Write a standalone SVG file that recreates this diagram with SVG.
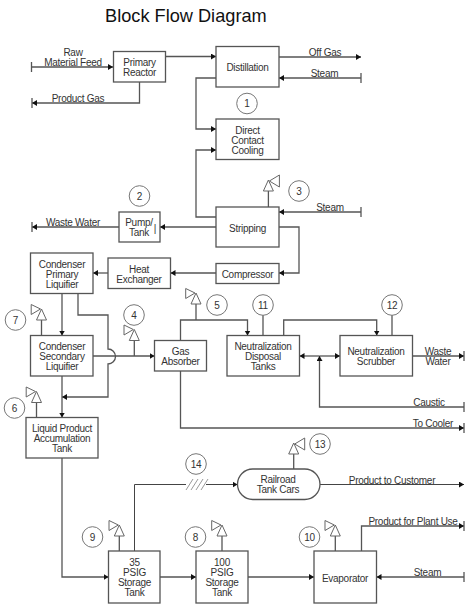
<svg xmlns="http://www.w3.org/2000/svg" width="474" height="608" viewBox="0 0 474 608">
<style>
text{font-family:"Liberation Sans",Arial,sans-serif;font-size:10px;letter-spacing:-.28px;fill:#333;text-anchor:middle}
.title{font-size:18.2px;letter-spacing:0;fill:#111;text-anchor:start}
.box{fill:#fff;stroke:#555;stroke-width:1.3}
.bub{fill:#fff;stroke:#777;stroke-width:1}
.c{fill:none;stroke:#555;stroke-width:1.3}
.a{marker-end:url(#arrow)}
.thin{stroke:#444;stroke-width:1}
.g{fill:#fff;stroke:#666;stroke-width:1}
</style>
<defs>
<marker id="arrow" markerUnits="userSpaceOnUse" markerWidth="6" markerHeight="7" refX="5" refY="3" orient="auto-start-reverse"><path d="M0 0L5 3L0 6Z" fill="#111"/></marker>
<g id="sensorL"><path class="g" d="M0-11L-5 0H5Z"/><path class="g" d="M-10.3-15.5V-5.5L-1-11Z"/></g>
<g id="sensorR"><path class="g" d="M0-11L-5 0H5Z"/><path class="g" d="M11-16V-4L1-10Z"/></g>
</defs>
<text class="title" x="105" y="22">Block Flow Diagram</text>
<g id="connectors">
<path class="c a" d="M31.5 67H113"/><path class="c" d="M31.5 62V72"/>
<path class="c a" d="M139.5 82V103H32"/><path class="c" d="M32 98V108"/>
<path class="c a" d="M165.5 56.5H216"/>
<path class="c a" d="M279 57H361"/>
<path class="c a" d="M361 78H279"/><path class="c" d="M361 73V83"/>
<path class="c a" d="M216 78H196V129H216"/>
<path class="c a" d="M216 217H196V150H216"/>
<path class="c a" d="M216 227H160"/>
<path class="c a" d="M119 227H32"/><path class="c" d="M32 222V232"/>
<path class="c a" d="M361 212H279"/><path class="c" d="M361 207V217"/>
<path class="c a" d="M279 227H299V273H279"/>
<path class="c a" d="M216 273H170.5"/>
<path class="c a" d="M108 273H93"/>
<path class="c a" d="M62 293.5V335.5"/>
<path class="c a" d="M78 293.5V315H108V349A7.5 7.5 0 0 1 108 364V397H62"/>
<path class="c a" d="M93 356H154.5"/>
<path class="c a" d="M62 376V417.5"/>
<path class="c" d="M134.3 356V340.5"/>
<path class="c a" d="M180.5 340.5V320H247.5V335.5"/>
<path class="c" d="M196 320V304"/>
<path class="c" d="M263 315V335.5"/>
<path class="c a" d="M283.7 335.5V320H376.7V335.5"/>
<path class="c" d="M392 315V335.5"/>
<path class="c a" d="M319.5 356H299.5"/><path class="c a" d="M319.5 356H340"/>
<path class="c a" d="M464 407H319.5V356"/><path class="c" d="M464 402V412"/>
<path class="c a" d="M412.5 356H464"/><path class="c" d="M464 351V361"/>
<path class="c a" d="M180.5 371V428H464"/><path class="c" d="M464 423V433"/>
<path class="c" d="M41.5 335.5V320"/>
<path class="c" d="M36.5 417.5V402.5"/>
<path class="c a" d="M62 458V577H108.5"/>
<path class="c a" d="M160 577H196"/>
<path class="c a" d="M248 577H314"/>
<path class="c a" d="M464 577H376.5"/><path class="c" d="M464 572V582"/>
<path class="c thin" d="M134.5 551V484.5H186"/>
<path class="c thin a" d="M206 484.5H237.5"/>
<path d="M186 490L193 479M191 490L198 479M196 490L203 479M201 490L208 479" fill="none" stroke="#999" stroke-width="1"/>
<path class="c thin a" d="M320 484.5H464"/>
<path class="c a" d="M361.5 551V526H464"/><path class="c" d="M464 521V531"/>
<path class="c" d="M119.3 551V536"/>
<path class="c" d="M222 551V536"/>
<path class="c" d="M335.3 551V536"/>
<path class="c" d="M293.7 469V454"/>
<path class="c" d="M268.4 207V191"/>
</g>
<g id="labels">
<text x="73" y="56">Raw</text><text x="73" y="66">Material Feed</text>
<text x="78" y="102">Product Gas</text>
<text x="325" y="56">Off Gas</text>
<text x="324.5" y="77">Steam</text>
<text x="330" y="211">Steam</text>
<text x="73" y="226">Waste Water</text>
<text x="438" y="355">Waste</text><text x="438" y="365">Water</text>
<text x="429" y="406">Caustic</text>
<text x="433" y="427">To Cooler</text>
<text x="392" y="484">Product to Customer</text>
<text x="413" y="525">Product for Plant Use</text>
<text x="427.5" y="576">Steam</text>
</g>
<g id="primary-reactor"><rect class="box" x="113.5" y="51.5" width="52" height="30.5"/><text x="139.5" y="66">Primary</text><text x="139.5" y="76">Reactor</text></g>
<g id="distillation"><rect class="box" x="216" y="46.5" width="63" height="40.5"/><text x="247.5" y="71">Distillation</text></g>
<g id="direct-contact-cooling"><rect class="box" x="216" y="119" width="63" height="40.5"/><text x="247.5" y="134">Direct</text><text x="247.5" y="144">Contact</text><text x="247.5" y="154">Cooling</text></g>
<g id="stripping"><rect class="box" x="216" y="207" width="63" height="40"/><text x="247.5" y="232">Stripping</text></g>
<g id="compressor"><rect class="box" x="216" y="263.5" width="63" height="20"/><text x="247.5" y="278">Compressor</text></g>
<g id="pump-tank"><rect class="box" x="119" y="212" width="41" height="30"/><text x="139" y="226">Pump/</text><text x="155" y="232">|</text><text x="139" y="236">Tank</text></g>
<g id="heat-exchanger"><rect class="box" x="108" y="258" width="62.5" height="30.5"/><text x="139" y="273">Heat</text><text x="139" y="283">Exchanger</text></g>
<g id="condenser-primary"><rect class="box" x="30.5" y="253" width="62.5" height="40.5"/><text x="62" y="268">Condenser</text><text x="62" y="278">Primary</text><text x="62" y="288">Liquifier</text></g>
<g id="condenser-secondary"><rect class="box" x="30.5" y="335.5" width="62.5" height="40.5"/><text x="62" y="350">Condenser</text><text x="62" y="360">Secondary</text><text x="62" y="370">Liquifier</text></g>
<g id="gas-absorber"><rect class="box" x="154.5" y="340.5" width="52" height="30.5"/><text x="180.5" y="355">Gas</text><text x="180.5" y="365">Absorber</text></g>
<g id="neutralization-disposal"><rect class="box" x="227" y="335.5" width="72.5" height="40.5"/><text x="263" y="350">Neutralization</text><text x="263" y="360">Disposal</text><text x="263" y="370">Tanks</text></g>
<g id="neutralization-scrubber"><rect class="box" x="340" y="335.5" width="72.5" height="40.5"/><text x="376" y="355">Neutralization</text><text x="376" y="365">Scrubber</text></g>
<g id="liquid-product"><rect class="box" x="26" y="417.5" width="72" height="40.5"/><text x="62" y="432">Liquid Product</text><text x="62" y="442">Accumulation</text><text x="62" y="452">Tank</text></g>
<g id="storage-35"><rect class="box" x="108.5" y="551" width="51.5" height="52"/><text x="134.5" y="566">35</text><text x="134.5" y="576">PSIG</text><text x="134.5" y="586">Storage</text><text x="134.5" y="596">Tank</text></g>
<g id="storage-100"><rect class="box" x="196" y="551" width="52" height="52"/><text x="222" y="566">100</text><text x="222" y="576">PSIG</text><text x="222" y="586">Storage</text><text x="222" y="596">Tank</text></g>
<g id="evaporator"><rect class="box" x="314" y="551" width="62.5" height="52"/><text x="345" y="582">Evaporator</text></g>
<g id="railroad"><rect class="box" x="237.5" y="469" width="82.5" height="30.5" rx="15.25"/><text x="278" y="483">Railroad</text><text x="278" y="493">Tank Cars</text></g>
<g id="sensor-3"><use href="#sensorR" x="268.4" y="191"/></g>
<g id="sensor-4"><use href="#sensorL" x="134.3" y="340.5"/></g>
<g id="sensor-5"><use href="#sensorL" x="196" y="304"/></g>
<g id="sensor-6"><use href="#sensorL" x="36.5" y="402.5"/></g>
<g id="sensor-7"><use href="#sensorL" x="41.5" y="320"/></g>
<g id="sensor-8"><use href="#sensorL" x="222" y="536"/></g>
<g id="sensor-9"><use href="#sensorL" x="119.3" y="536"/></g>
<g id="sensor-10"><use href="#sensorL" x="335.3" y="536"/></g>
<g id="sensor-13"><use href="#sensorR" x="293.7" y="454"/></g>
<g id="bubble-1"><circle class="bub" cx="247" cy="103.5" r="10.3"/><text x="247" y="107">1</text></g>
<g id="bubble-2"><circle class="bub" cx="139.5" cy="196" r="10.3"/><text x="139.5" y="200">2</text></g>
<g id="bubble-3"><circle class="bub" cx="299" cy="191" r="10.3"/><text x="299" y="195">3</text></g>
<g id="bubble-4"><circle class="bub" cx="134" cy="315" r="10.3"/><text x="134" y="319">4</text></g>
<g id="bubble-5"><circle class="bub" cx="217" cy="305" r="10.3"/><text x="217" y="309">5</text></g>
<g id="bubble-6"><circle class="bub" cx="14.5" cy="408" r="10.3"/><text x="14.5" y="412">6</text></g>
<g id="bubble-7"><circle class="bub" cx="15.5" cy="320" r="10.3"/><text x="15.5" y="324">7</text></g>
<g id="bubble-8"><circle class="bub" cx="195.5" cy="537" r="10.3"/><text x="195.5" y="541">8</text></g>
<g id="bubble-9"><circle class="bub" cx="92.5" cy="537" r="10.3"/><text x="92.5" y="541">9</text></g>
<g id="bubble-10"><circle class="bub" cx="309.5" cy="537" r="10.3"/><text x="309.5" y="541">10</text></g>
<g id="bubble-11"><circle class="bub" cx="263" cy="305" r="10.3"/><text x="263" y="309">11</text></g>
<g id="bubble-12"><circle class="bub" cx="392" cy="305" r="10.3"/><text x="392" y="309">12</text></g>
<g id="bubble-13"><circle class="bub" cx="320" cy="444" r="10.3"/><text x="320" y="448">13</text></g>
<g id="bubble-14"><circle class="bub" cx="196" cy="464" r="10.3"/><text x="196" y="468">14</text></g>
</svg>
